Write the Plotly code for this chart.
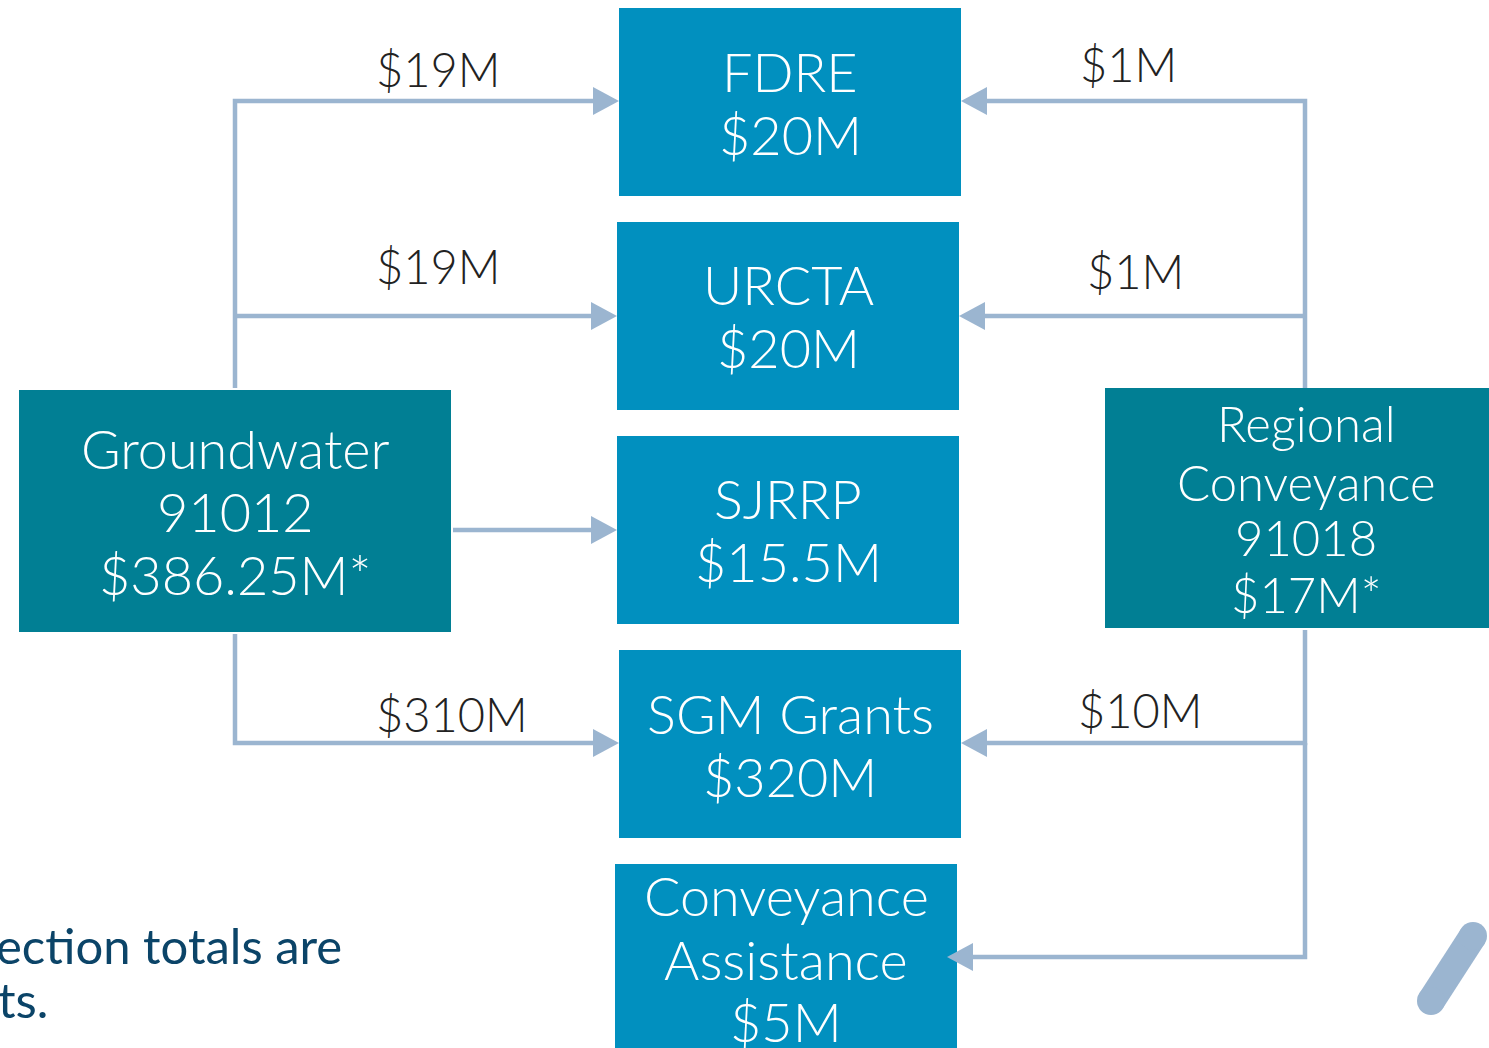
import plotly.graph_objects as go

# ---- content ----
box_names = ["FDRE", "URCTA", "SJRRP", "SGM Grants", "Conveyance Assistance",
             "Groundwater", "Regional Conveyance"]
box_lines = [
    ["FDRE", "$20M"],
    ["URCTA", "$20M"],
    ["SJRRP", "$15.5M"],
    ["SGM Grants", "$320M"],
    ["Conveyance", "Assistance", "$5M"],
    ["Groundwater", "91012", "$386.25M*"],
    ["Regional", "Conveyance", "91018", "$17M*"],
]
flow_labels = ["$19M", "$19M", "", "$310M", "$1M", "$1M", "$10M", ""]
note_lines = ["ection totals are", "ts."]

# ---- geometry (pixel coordinates) ----
W, H = 1489, 1048
box_geom = {  # x0, x1, y0, y1
    "FDRE": (619, 961, 8, 196),
    "URCTA": (617, 959, 222, 410),
    "SJRRP": (617, 959, 436, 624),
    "SGM Grants": (619, 961, 650, 838),
    "Conveyance Assistance": (615, 957, 864, 1060),
    "Groundwater": (19, 451, 390, 632),
    "Regional Conveyance": (1105, 1500, 388, 628),
}
box_color = {n: "#0190BF" for n in box_names}
box_color["Groundwater"] = "#017F94"
box_color["Regional Conveyance"] = "#017F94"
line_y = {  # centre y of each text line
    "FDRE": [71, 134],
    "URCTA": [284, 347],
    "SJRRP": [498, 561],
    "SGM Grants": [713, 776],
    "Conveyance Assistance": [895, 959, 1021],
    "Groundwater": [448, 511, 574],
    "Regional Conveyance": [423, 482, 537, 594],
}
box_cx = {n: (g[0] + g[1]) / 2 for n, g in box_geom.items()}
box_cx["Regional Conveyance"] = 1306
box_font = {n: 54 for n in box_names}
box_font["Regional Conveyance"] = 49

LC = "#9BB5D0"
LW = 4.5
# polylines: list of points, last point is arrow tip
flows = [
    [(235, 388), (235, 101), (619, 101)],
    [(235, 316), (617, 316)],
    [(453, 530), (617, 530)],
    [(235, 634), (235, 743), (619, 743)],
    [(1305, 388), (1305, 101), (961, 101)],
    [(1305, 316), (959, 316)],
    [(1305, 630), (1305, 743), (961, 743)],
    [(1305, 743), (1305, 957), (947, 957)],
]
label_pos = [(438, 69), (438, 266), None, (452, 714), (1128, 64), (1135, 271), (1140, 710), None]

fig = go.Figure()
shapes = []
annotations = []

for n in box_names:
    x0, x1, y0, y1 = box_geom[n]
    shapes.append(dict(type="rect", x0=x0, x1=x1, y0=y0, y1=y1,
                       fillcolor=box_color[n], line=dict(width=0), layer="below"))
    cx = box_cx[n]
    for t, yy in zip(box_lines[box_names.index(n)], line_y[n]):
        annotations.append(dict(x=cx, y=yy, text=t, showarrow=False,
                                xanchor="center", yanchor="middle",
                                font=dict(family="Lato", size=box_font[n], color="white", weight=300)))

AH_L, AH_W = 26, 14
for pts in flows:
    (xa, ya), (xb, yb) = pts[-2], pts[-1]
    dx = 1 if xb > xa else -1
    base = xb - dx * AH_L
    segpts = pts[:-1] + [(base, yb)]
    path = "M " + " L ".join(f"{x},{y}" for x, y in segpts)
    shapes.append(dict(type="path", path=path, line=dict(color=LC, width=LW)))
    tri = f"M {xb},{yb} L {base},{yb-AH_W} L {base},{yb+AH_W} Z"
    shapes.append(dict(type="path", path=tri, fillcolor=LC, line=dict(width=0)))

for lab, pos in zip(flow_labels, label_pos):
    if lab and pos:
        annotations.append(dict(x=pos[0], y=pos[1], text=lab, showarrow=False,
                                xanchor="center", yanchor="middle",
                                font=dict(family="Lato", size=47, color="#222222", weight=300)))

# footnote fragment (cut off at left edge, as in the source)
annotations.append(dict(x=344, y=945, text=note_lines[0], showarrow=False, xanchor="right",
                        yanchor="middle", font=dict(family="Lato", size=49, color="#0B4468")))
annotations.append(dict(x=50, y=999, text=note_lines[1], showarrow=False, xanchor="right",
                        yanchor="middle", font=dict(family="Lato", size=49, color="#0B4468")))

# decorative stroke at bottom right
sx0, sy0, sx1, sy1, sw = 1431, 1001, 1473, 936, 28
shapes.append(dict(type="line", x0=sx0, y0=sy0, x1=sx1, y1=sy1, line=dict(color=LC, width=sw)))
for cx, cy in [(sx0, sy0), (sx1, sy1)]:
    r = sw / 2
    shapes.append(dict(type="circle", x0=cx - r, x1=cx + r, y0=cy - r, y1=cy + r,
                       fillcolor=LC, line=dict(width=0)))

fig.update_layout(
    width=W, height=H, margin=dict(l=0, r=0, t=0, b=0),
    paper_bgcolor="white", plot_bgcolor="white",
    xaxis=dict(range=[0, W], visible=False, fixedrange=True),
    yaxis=dict(range=[H, 0], visible=False, fixedrange=True),
    shapes=shapes, annotations=annotations, showlegend=False,
)
fig.write_html("out.html", config={"displayModeBar": False},
               post_script="document.body.style.margin='0';document.body.style.overflow='hidden';")
